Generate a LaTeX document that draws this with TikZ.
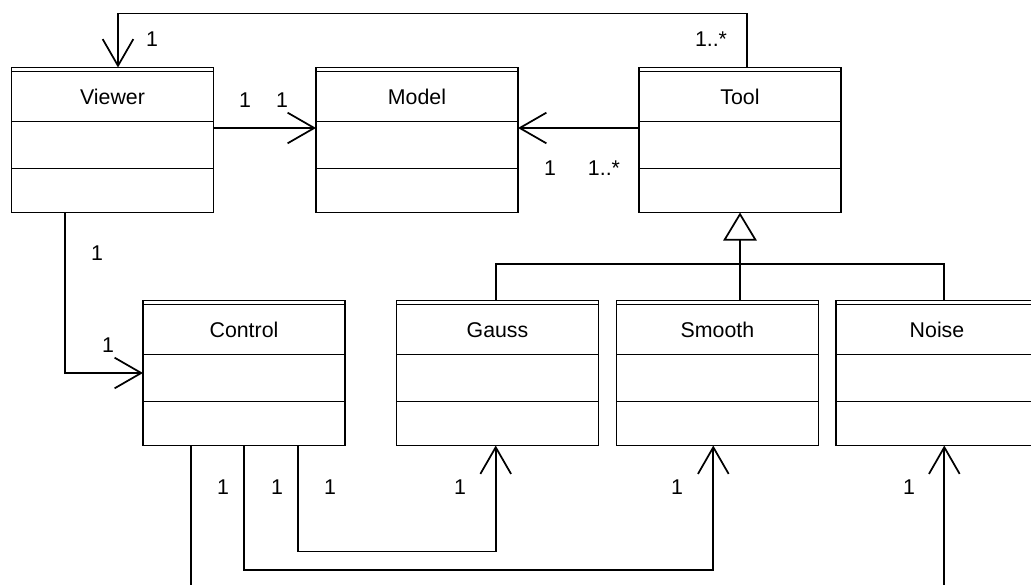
\documentclass[tikz,border=0pt]{standalone}
\usepackage{fontspec}
\setmainfont{Liberation Sans}
\usetikzlibrary{arrows.meta,calc}

\tikzset{
  classbox/.style={draw, line width=1.4pt, rectangle, minimum width=151.5pt,
    minimum height=108.75pt, inner sep=0pt, outer sep=0pt, anchor=north west},
  classname/.style={anchor=base, font=\fontsize{16}{19}\selectfont, inner sep=0pt},
  mult/.style={font=\fontsize{16}{19}\selectfont, inner sep=0pt},
  divider/.style={line width=1.1pt},
  topline/.style={line width=0.6pt},
  link/.style={line width=1.3pt},
  assoc/.style={link, -{Straight Barb[length=20pt,width=23pt]}},
  generalize/.style={link, -{Triangle[open,length=21pt,width=25pt]}},
}

% UML class with name compartment and two empty compartments
\newcommand{\umlclass}[4]{%
  \node[classbox] (#1) at (#2,#3) {};
  \draw[topline] ($(#1.north west)+(0,3.5)$) -- ($(#1.north east)+(0,3.5)$);
  \node[classname] (#1-name) at ($(#1.north)+(0,36.5)$) {#4};
  \draw[divider] ($(#1.north west)+(0,54)$) -- ($(#1.north east)+(0,54)$);
  \draw[divider] ($(#1.north west)+(0,101)$) -- ($(#1.north east)+(0,101)$);
}

\begin{document}
\begin{tikzpicture}[x=0.75pt, y=-0.75pt]
\useasboundingbox (0,0) rectangle (1031,585);
\clip (0,0) rectangle (1031,585);

% classes
\umlclass{viewer}{11.5}{67.5}{Viewer}
\umlclass{model}{316}{67.5}{Model}
\umlclass{tool}{639}{67.5}{Tool}
\umlclass{control}{143}{300.5}{Control}
\umlclass{gauss}{396.5}{300.5}{Gauss}
\umlclass{smooth}{616.5}{300.5}{Smooth}
\umlclass{noise}{836}{300.5}{Noise}

% associations
\draw[assoc] ($(tool.north west)+(108,0)$) |- ($(viewer.north west)+(106.5,-54)$)
  -- ($(viewer.north west)+(106.5,0)$);
\draw[assoc] ($(viewer.north east)+(0,60.5)$) -- ($(model.north west)+(0,60.5)$);
\draw[assoc] ($(tool.north west)+(0,60.5)$) -- ($(model.north east)+(0,60.5)$);
\draw[assoc] ($(viewer.south west)+(53.5,0)$) |- ($(control.north west)+(0,72.5)$);

% generalization
\draw[generalize] ($(smooth.north west)+(123.5,0)$) -- (tool.south);
\draw[link] ($(gauss.north west)+(99.2,0)$) |- ($(noise.north west)+(108.3,-36.5)$)
  -- ($(noise.north west)+(108.3,0)$);

% control to filters
\draw[assoc] ($(control.south west)+(155,0)$) |- ($(gauss.south west)+(99.2,106)$)
  -- ($(gauss.south west)+(99.2,0)$);
\draw[assoc] ($(control.south west)+(101.3,0)$) |- ($(smooth.south west)+(96.8,124.5)$)
  -- ($(smooth.south west)+(96.8,0)$);
\draw[assoc] ($(control.south west)+(47.7,0)$) |- ($(noise.south west)+(108.3,160)$)
  -- ($(noise.south west)+(108.3,0)$);

% multiplicities
\node[mult] (m1) at (152,39) {1};
\node[mult] (m2) at (711,39) {1..*};
\node[mult] (m3) at (245,100) {1};
\node[mult] (m4) at (282,100) {1};
\node[mult] (m5) at (550,168) {1};
\node[mult] (m6) at (604,168) {1..*};
\node[mult] (m7) at (97,253) {1};
\node[mult] (m8) at (108,345) {1};
\node[mult] (m9) at (223,487) {1};
\node[mult] (m10) at (277,487) {1};
\node[mult] (m11) at (330,487) {1};
\node[mult] (m12) at (460,487) {1};
\node[mult] (m13) at (677,487) {1};
\node[mult] (m14) at (909,487) {1};
\end{tikzpicture}
\end{document}
